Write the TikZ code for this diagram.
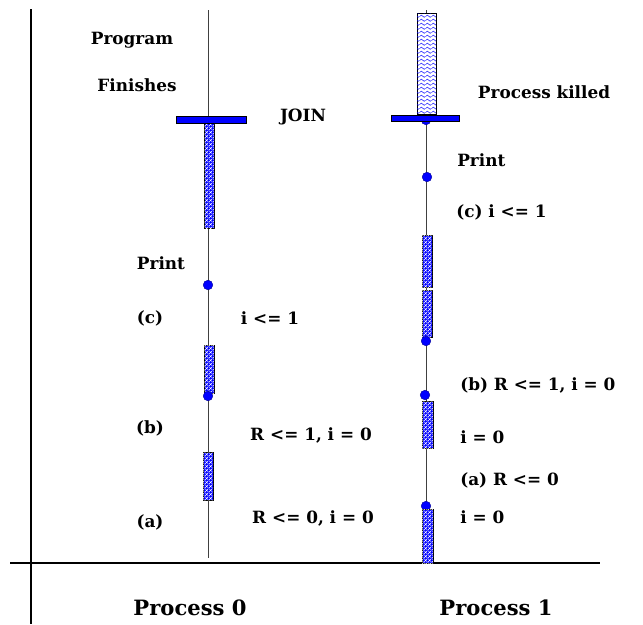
\documentclass[tikz,border=0pt]{standalone}
\usepackage{fontspec}
\setmainfont{DejaVu Serif}
\usetikzlibrary{patterns}

% small white crosses on blue (running code)
\pgfdeclarepatternformonly{xchecks}{\pgfqpoint{0pt}{0pt}}{\pgfqpoint{2.6pt}{2.6pt}}{\pgfqpoint{2.6pt}{2.6pt}}{
  \pgfsetlinewidth{0.35pt}
  \pgfpathmoveto{\pgfqpoint{0pt}{0pt}}\pgfpathlineto{\pgfqpoint{2.6pt}{2.6pt}}
  \pgfpathmoveto{\pgfqpoint{0pt}{2.6pt}}\pgfpathlineto{\pgfqpoint{2.6pt}{0pt}}
  \pgfusepath{stroke}}
% little waves (killed process)
\pgfdeclarepatternformonly{wavelets}{\pgfqpoint{0pt}{0pt}}{\pgfqpoint{4.4pt}{3pt}}{\pgfqpoint{4.4pt}{3pt}}{
  \pgfsetlinewidth{0.4pt}
  \pgfpathmoveto{\pgfqpoint{0pt}{1.5pt}}
  \pgfpathcurveto{\pgfqpoint{0.6pt}{2.7pt}}{\pgfqpoint{1.6pt}{2.7pt}}{\pgfqpoint{2.2pt}{1.5pt}}
  \pgfpathcurveto{\pgfqpoint{2.8pt}{0.3pt}}{\pgfqpoint{3.8pt}{0.3pt}}{\pgfqpoint{4.4pt}{1.5pt}}
  \pgfusepath{stroke}}

\begin{document}
\begin{tikzpicture}[
    x=0.25mm, y=-0.25mm,
    font=\bfseries\fontsize{12}{14}\selectfont,
    lbl/.style={inner sep=0pt},
    lblw/.style={lbl, anchor=west},
    axis/.style={line width=1.3pt, black},
    timeline/.style={line width=0.6pt, black!75},
    busy/.style={draw=black, line width=0.4pt, fill=blue, postaction={pattern=xchecks, pattern color=white}},
    killed/.style={draw=black, line width=0.4pt, fill=white, postaction={pattern=wavelets, pattern color=blue}},
    joinbar/.style={draw=black, line width=0.4pt, fill=blue},
    evt/.style={circle, fill=blue, draw=blue!60!black, line width=0.3pt, inner sep=0pt, minimum size=2.4mm}
]
\useasboundingbox (0,0) rectangle (643,624);

% Axes
\coordinate (ytop) at (31,9);
\coordinate (ybot) at (31,624);
\coordinate (xleft) at (10,563);
\coordinate (xright) at (600,563);
\draw[axis] (ytop) -- (ybot);
\draw[axis] (xleft) -- (xright);

% Process 0
\coordinate (p0top) at (208,10);
\coordinate (p0bot) at (208,558);
\draw[timeline] (p0top) -- (p0bot);
\draw[busy] (204,123) rectangle (214,228);
\draw[busy] (204,345) rectangle (214,393);
\draw[busy] (203,452) rectangle (213,500);
\draw[joinbar] (176,116) rectangle (246,123);
\node[evt] (p0print) at (208,285) {};
\node[evt] (p0b) at (208,396) {};

% Process 1
\coordinate (p1top) at (426,10);
\coordinate (p1bot) at (426,563);
\draw[timeline] (p1top) -- (p1bot);
\draw[killed] (417,13) rectangle (436,114);
\node[evt] (p1join) at (426,120) {};
\draw[joinbar] (391,115) rectangle (459,121);
\node[evt] (p1print) at (427,177) {};
\draw[busy] (422,235) rectangle (432,287);
\draw[busy] (422,290) rectangle (432,337);
\node[evt] (p1c) at (426,341) {};
\node[evt] (p1b) at (425,395) {};
\draw[busy] (422,401) rectangle (433,448);
\node[evt] (p1a) at (426,506) {};
\draw[busy] (422,509) rectangle (433,563);

% Labels, process 0
\node[lbl] (prog) at (132,40) {Program};
\node[lbl] (fin) at (137,85) {Finishes};
\node[lbl] (join) at (303,117) {JOIN};
\node[lbl] (p0prt) at (161,263) {Print};
\node[lbl] (p0lc) at (150,318) {(c)};
\node[lbl] (p0lb) at (150,428) {(b)};
\node[lbl] (p0la) at (150,522) {(a)};
\node[lbl] (p0sc) at (270,318) {i <= 1};
\node[lbl] (p0sb) at (311,435) {R <= 1, i = 0};
\node[lbl] (p0sa) at (313,518) {R <= 0, i = 0};

% Labels, process 1
\node[lbl] (kill) at (544,92) {Process killed};
\node[lblw] (p1prt) at (457,160) {Print};
\node[lblw] (p1sc) at (456,212) {(c) i <= 1};
\node[lblw] (p1sb) at (460,385) {(b) R <= 1, i = 0};
\node[lblw] (p1ib) at (460,437) {i = 0};
\node[lblw] (p1sa) at (460,480) {(a) R <= 0};
\node[lblw] (p1ia) at (460,517) {i = 0};

% Process names
\node[lbl, font=\bfseries\fontsize{15}{17}\selectfont] (name0) at (190,608) {Process 0};
\node[lbl, font=\bfseries\fontsize{15}{17}\selectfont] (name1) at (496,608) {Process 1};
\end{tikzpicture}
\end{document}
